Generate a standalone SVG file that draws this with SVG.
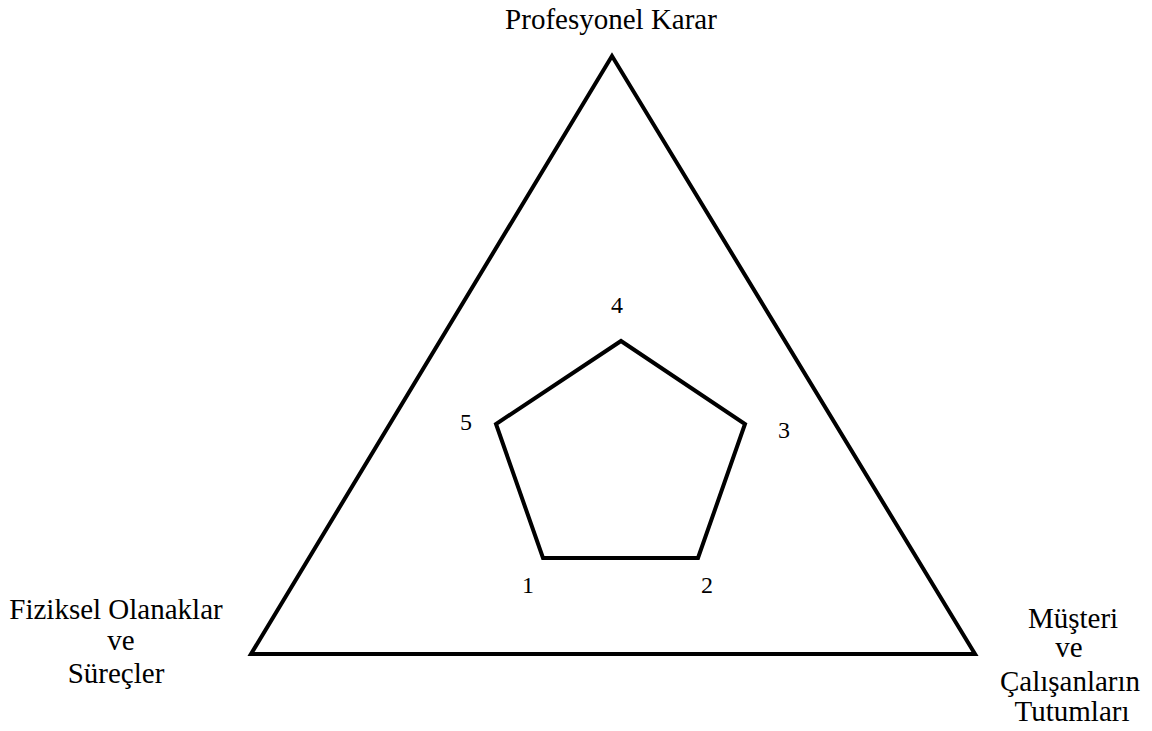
<svg xmlns="http://www.w3.org/2000/svg" width="1152" height="731" viewBox="0 0 1152 731">
<style>
.t{font-family:"Liberation Serif","Times New Roman",serif;font-size:29px;fill:#000;text-anchor:middle}
.n{font-family:"Liberation Serif","Times New Roman",serif;font-size:24px;fill:#000;text-anchor:middle}
.s{fill:none;stroke:#000;stroke-width:4;stroke-linejoin:miter}
</style>
<rect width="1152" height="731" fill="#fff"/>
<g id="triangle"><polygon class="s" points="612,56 251,654 975,654"/></g>
<g id="pentagon"><polygon class="s" points="621,341 745,424 698,558 543,558 496,424"/></g>
<g id="label-top"><text class="t" x="611" y="29">Profesyonel Karar</text></g>
<g id="label-left">
<text class="t" x="116" y="619">Fiziksel Olanaklar</text>
<text class="t" x="121" y="650">ve</text>
<text class="t" x="116" y="683">Süreçler</text>
</g>
<g id="label-right">
<text class="t" x="1073" y="628">Müşteri</text>
<text class="t" x="1069" y="657">ve</text>
<text class="t" x="1070" y="691">Çalışanların</text>
<text class="t" x="1072" y="721">Tutumları</text>
</g>
<g id="numbers">
<text class="n" x="617" y="313">4</text>
<text class="n" x="466" y="430">5</text>
<text class="n" x="784" y="438">3</text>
<text class="n" x="528" y="593">1</text>
<text class="n" x="707" y="593">2</text>
</g>
<g id="connectors"></g>
</svg>
